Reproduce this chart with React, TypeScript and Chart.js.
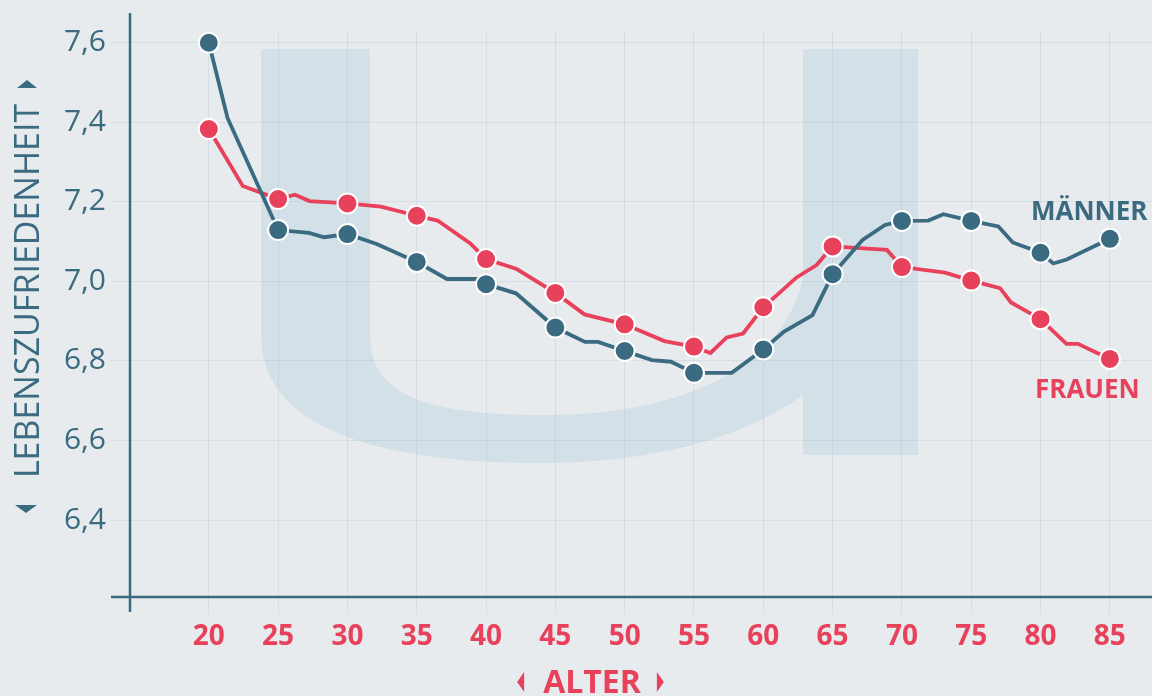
import { useEffect, useRef } from "react";
import { Chart, registerables } from "chart.js";

Chart.register(...registerables);

// ---- data ----
const xTicks = [20, 25, 30, 35, 40, 45, 50, 55, 60, 65, 70, 75, 80, 85];
const yTicks = [6.4, 6.6, 6.8, 7.0, 7.2, 7.4, 7.6];

const menLabel = "MÄNNER";
const menAges = [20, 21.35, 25, 27.23, 28.31, 30, 32.11, 35, 37.18, 39.42, 40, 42.16, 45, 47.14, 48.08, 50, 51.97, 53.34, 55, 57.72, 60, 61.5, 63.55, 65, 67.16, 68.78, 70, 71.9, 72.99, 75, 76.96, 78.0, 80, 80.92, 81.89, 85];
const menValues = [7.6, 7.411, 7.129, 7.122, 7.111, 7.119, 7.094, 7.049, 7.006, 7.006, 6.993, 6.97, 6.884, 6.848, 6.848, 6.825, 6.802, 6.798, 6.77, 6.77, 6.829, 6.874, 6.915, 7.018, 7.104, 7.142, 7.152, 7.153, 7.169, 7.152, 7.138, 7.098, 7.072, 7.045, 7.055, 7.107];

const womenLabel = "FRAUEN";
const womenAges = [20, 22.45, 25, 26.22, 27.26, 30, 32.42, 35, 36.5, 38.84, 40, 42.21, 45, 47.1, 50, 52.87, 55, 56.19, 57.36, 58.54, 60, 62.4, 63.84, 65, 68.92, 70, 73.11, 75, 77.08, 77.87, 80, 81.87, 82.7, 85];
const womenValues = [7.383, 7.24, 7.207, 7.218, 7.202, 7.196, 7.188, 7.165, 7.153, 7.096, 7.056, 7.031, 6.971, 6.917, 6.892, 6.85, 6.836, 6.82, 6.859, 6.869, 6.935, 7.01, 7.041, 7.088, 7.079, 7.036, 7.022, 7.002, 6.983, 6.947, 6.905, 6.843, 6.843, 6.805];

const xTitle = "ALTER";
const yTitle = "LEBENSZUFRIEDENHEIT";

// ---- styles ----
const TEAL = "#3b6b80";
const RED = "#e8415b";
const BG = "#e8ebee";
const U_COLOR = "#d3e0e8";
const GRID = "rgba(140,160,178,0.18)";
const FONT = "'Open Sans', 'Noto Sans', sans-serif";

const isMarker = (ctx: any) => {
  const r = ctx.raw;
  return r && Math.abs(r.x % 5) < 1e-9;
};

const decorPlugin = {
  id: "decor",
  beforeDraw(chart: any) {
    const ctx = chart.ctx;
    ctx.save();
    // big background "u" shape
    ctx.fillStyle = U_COLOR;
    ctx.beginPath();
    ctx.moveTo(261, 49);
    ctx.lineTo(370, 49);
    ctx.lineTo(370, 335);
    ctx.bezierCurveTo(370, 397, 430, 415, 545, 415);
    ctx.bezierCurveTo(680, 415, 780, 370, 803, 280);
    ctx.lineTo(803, 49);
    ctx.lineTo(918, 49);
    ctx.lineTo(918, 455);
    ctx.lineTo(803, 455);
    ctx.lineTo(803, 395);
    ctx.bezierCurveTo(740, 440, 650, 463, 540, 463);
    ctx.bezierCurveTo(370, 463, 261, 425, 261, 335);
    ctx.closePath();
    ctx.fill();
    ctx.restore();
  },
  beforeDatasetsDraw(chart: any) {
    const ctx = chart.ctx;
    const a = chart.chartArea;
    ctx.save();
    ctx.strokeStyle = TEAL;
    ctx.lineWidth = 2.5;
    ctx.beginPath();
    ctx.moveTo(a.left, 13);
    ctx.lineTo(a.left, a.bottom + 15);
    ctx.moveTo(a.left - 19, a.bottom);
    ctx.lineTo(chart.width, a.bottom);
    ctx.stroke();
    ctx.restore();
  },
  afterDatasetsDraw(chart: any) {
    const ctx = chart.ctx;
    ctx.save();
    // series labels
    ctx.font = `bold 26px ${FONT}`;
    ctx.textAlign = "left";
    ctx.textBaseline = "alphabetic";
    ctx.fillStyle = TEAL;
    ctx.fillText(menLabel, 1031, 220);
    ctx.fillStyle = RED;
    ctx.fillText(womenLabel, 1035, 398);

    // x title with arrows
    ctx.font = `bold 32px ${FONT}`;
    ctx.textAlign = "center";
    ctx.fillStyle = RED;
    const cx = 592;
    ctx.fillText(xTitle, cx, 693);
    const xw = ctx.measureText(xTitle).width;
    ctx.beginPath();
    ctx.moveTo(cx - xw / 2 - 26, 682);
    ctx.lineTo(cx - xw / 2 - 19, 672);
    ctx.lineTo(cx - xw / 2 - 19, 692);
    ctx.closePath();
    ctx.moveTo(cx + xw / 2 + 23, 682);
    ctx.lineTo(cx + xw / 2 + 16, 672);
    ctx.lineTo(cx + xw / 2 + 16, 692);
    ctx.closePath();
    ctx.fill();

    // y title (rotated) with arrows
    ctx.fillStyle = TEAL;
    ctx.save();
    ctx.translate(39, 291);
    ctx.rotate(-Math.PI / 2);
    ctx.font = `34px ${FONT}`;
    ctx.textAlign = "center";
    ctx.textBaseline = "alphabetic";
    ctx.fillText(yTitle, 0, 0);
    ctx.restore();
    ctx.beginPath();
    ctx.moveTo(15, 505);
    ctx.lineTo(37, 505);
    ctx.lineTo(26, 513);
    ctx.closePath();
    ctx.moveTo(17, 88);
    ctx.lineTo(37, 88);
    ctx.lineTo(27, 80);
    ctx.closePath();
    ctx.fill();
    ctx.restore();
  },
};

export default function App() {
  const ref = useRef<HTMLCanvasElement | null>(null);

  useEffect(() => {
    if (!ref.current) return;
    const chart = new Chart(ref.current, {
      type: "line",
      data: {
        datasets: [
          {
            label: menLabel,
            data: menAges.map((a, i) => ({ x: a, y: menValues[i] })),
            borderColor: TEAL,
            backgroundColor: TEAL,
            borderWidth: 3.8,
            pointRadius: (c: any) => (isMarker(c) ? 10 : 0),
            pointBackgroundColor: TEAL,
            pointBorderColor: "#ffffff",
            pointBorderWidth: 2,
            tension: 0,
          },
          {
            label: womenLabel,
            data: womenAges.map((a, i) => ({ x: a, y: womenValues[i] })),
            borderColor: RED,
            backgroundColor: RED,
            borderWidth: 3.8,
            pointRadius: (c: any) => (isMarker(c) ? 10 : 0),
            pointBackgroundColor: RED,
            pointBorderColor: "#ffffff",
            pointBorderWidth: 2,
            tension: 0,
          },
        ],
      },
      options: {
        responsive: false,
        animation: false,
        devicePixelRatio: 1,
        events: [],
        layout: { autoPadding: false, padding: { top: 32, left: 0, right: 0, bottom: 0 } },
        plugins: { legend: { display: false }, tooltip: { enabled: false } },
        scales: {
          x: {
            type: "linear",
            min: 14.315,
            max: 88.04,
            afterBuildTicks: (s: any) => {
              s.ticks = xTicks.map((v) => ({ value: v }));
            },
            afterFit: (s: any) => {
              s.height = 99;
              s.paddingLeft = 0;
              s.paddingRight = 0;
            },
            grid: { color: GRID, lineWidth: 1, tickLength: 17, drawTicks: true },
            border: { display: false },
            ticks: {
              autoSkip: false,
              maxRotation: 0,
              padding: 6,
              color: RED,
              font: { family: FONT, size: 28, weight: "bold" },
              callback: (v: any) => String(v),
            },
          },
          y: {
            type: "linear",
            min: 6.2065,
            max: 7.627,
            afterBuildTicks: (s: any) => {
              s.ticks = yTicks.map((v) => ({ value: v }));
            },
            afterFit: (s: any) => {
              s.width = 130;
              s.paddingTop = 0;
              s.paddingBottom = 0;
            },
            grid: { color: GRID, lineWidth: 1, tickLength: 19, drawTicks: true },
            border: { display: false },
            ticks: {
              padding: 5,
              color: TEAL,
              font: { family: FONT, size: 30 },
              callback: (v: any) => Number(v).toFixed(1).replace(".", ","),
            },
          },
        },
      },
      plugins: [decorPlugin],
    } as any);
    return () => chart.destroy();
  }, []);

  return (
    <div style={{ position: "absolute", left: 0, top: 0, width: 1152, height: 696, background: BG, overflow: "hidden" }}>
      <canvas ref={ref} width={1152} height={696} style={{ display: "block" }} />
    </div>
  );
}
